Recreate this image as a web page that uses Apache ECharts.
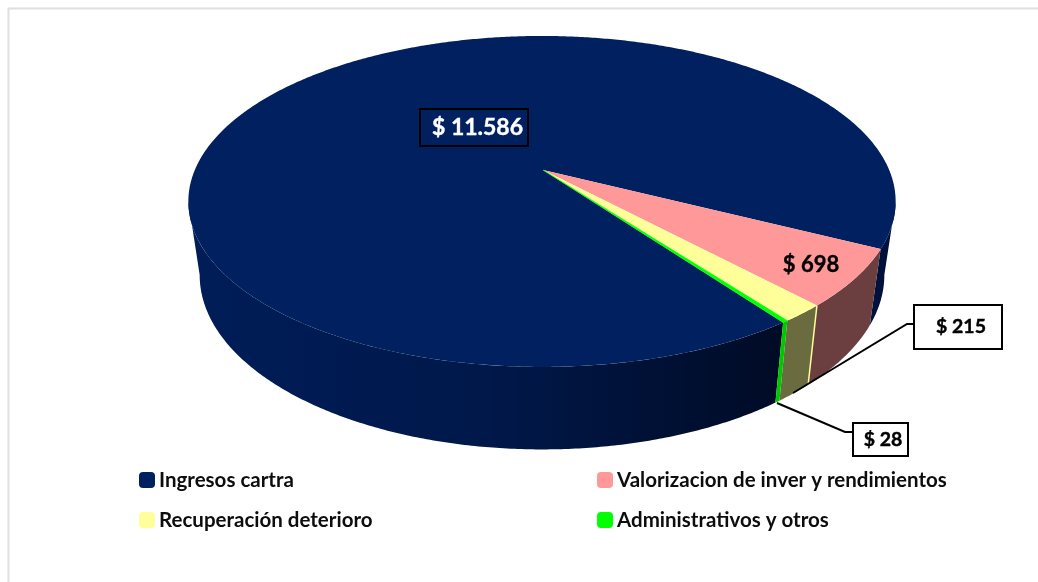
<!DOCTYPE html>
<html>
<head>
<meta charset="utf-8">
<style>
html, body { margin: 0; padding: 0; background: #fff; }
#main { width: 1038px; height: 582px; }
</style>
<script src="https://cdn.jsdelivr.net/npm/echarts@6/dist/echarts.min.js"></script>
</head>
<body>
<div id="main"></div>
<script>
// data
var categories = ['Ingresos cartra', 'Valorizacion de inver y rendimientos', 'Recuperación deterioro', 'Administrativos y otros'];
var values = [11586, 698, 215, 28];
var labelTexts = ['$ 11.586', '$ 698', '$ 215', '$ 28'];
var topColors = ['#002060', '#ff9999', '#ffff99', '#00ff00'];
var wallColors = [null, '#6b3f3f', '#6b6b40', '#00c800'];

var total = values.reduce(function (a, b) { return a + b; }, 0);

// projection of the tilted disc
var START_DEG = 54;
var CX = 542, CY = 170, A = 347.2, B = 159.5, K = 0.19;
var BOTTOM_SCALE = 0.968, BOTTOM_Y = 242, BOTTOM_B = 168;
// where the rim turns away from the viewer, left and right
var TANGENT_RIGHT = Math.asin(K) * 180 / Math.PI;
var TANGENT_LEFT = 180 - TANGENT_RIGHT;
var FONT = 'Lato, "Open Sans", sans-serif';

function topPoint(deg, r) {
    var t = deg * Math.PI / 180;
    var u = r * Math.cos(t), v = r * Math.sin(t), w = 1 - K * v;
    return [CX + A * u / w, CY + B * v / w];
}
function bottomPoint(deg) {
    var t = deg * Math.PI / 180;
    var u = Math.cos(t), v = Math.sin(t), w = 1 - K * v;
    return [CX + BOTTOM_SCALE * A * u / w, BOTTOM_Y + BOTTOM_B * v / w];
}
function arc(fn, from, to) {
    var pts = [], n = Math.max(2, Math.ceil(Math.abs(to - from) * 2));
    for (var i = 0; i <= n; i++) pts.push(fn(from + (to - from) * i / n, 1));
    return pts;
}
function wall(from, to, fill) {
    return {
        type: 'polygon',
        shape: { points: arc(topPoint, from, to).concat(arc(bottomPoint, from, to).reverse()) },
        style: { fill: fill }
    };
}
function sliceAngles(idx) {
    var before = 0;
    for (var i = 0; i < idx; i++) before += values[i];
    return [START_DEG + before / total * 360, START_DEG + (before + values[idx]) / total * 360];
}
function labelText(idx, x, y, size, color) {
    return { type: 'text', z2: 6, x: x, y: y,
             style: { text: labelTexts[idx], fill: color, stroke: color, lineWidth: 0.4,
                      align: 'center', verticalAlign: 'middle', font: 'bold ' + size + 'px ' + FONT } };
}
function box(x, y, w, h, fill) {
    return { type: 'rect', z2: 5, shape: { x: x, y: y, width: w, height: h },
             style: { fill: fill, stroke: '#000', lineWidth: 2 } };
}
function leader(points) {
    return { type: 'polyline', z2: 5, shape: { points: points },
             style: { fill: 'none', stroke: '#000', lineWidth: 2 } };
}

function renderSlice(params, api) {
    var idx = params.seriesIndex;
    var ang = sliceAngles(idx);
    var kids = [];
    if (idx === 0) {
        var leftWall = new echarts.graphic.LinearGradient(198, 0, 777, 0, [
            { offset: 0, color: '#001d58' },
            { offset: 0.5, color: '#00184a' },
            { offset: 1, color: '#000b26' }
        ], true);
        kids.push(wall(ang[0], TANGENT_LEFT, leftWall));
        kids.push(wall(TANGENT_RIGHT, ang[1] - 360, '#00123c'));
    } else {
        kids.push(wall(ang[0], ang[1], wallColors[idx]));
    }
    var top = arc(topPoint, ang[0], ang[1]);
    top.unshift([CX + 1, CY]);
    kids.push({ type: 'polygon', shape: { points: top },
                style: { fill: topColors[idx], stroke: idx === 3 ? topColors[idx] : null, lineWidth: 0.5 } });

    if (idx === 0) {
        kids.push(box(420, 109, 108, 37, 'rgba(0,0,0,0)'));
        kids.push(labelText(0, 477.5, 128, 23, '#fff'));
    } else if (idx === 1) {
        kids.push(labelText(1, 811, 265, 22, '#000'));
    } else if (idx === 2) {
        kids.push({ type: 'line', z2: 2, shape: { x1: topPoint(ang[0], 1)[0], y1: topPoint(ang[0], 1)[1],
                    x2: bottomPoint(ang[0])[0], y2: bottomPoint(ang[0])[1] },
                    style: { stroke: '#ffff99', lineWidth: 1.5 } });
        kids.push(leader([[914, 324], [907, 324], [793, 393]]));
        kids.push(box(914, 305, 88, 44, '#fff'));
        kids.push(labelText(2, 961, 327, 19.5, '#000'));
    } else {
        kids.push(leader([[853, 432], [845, 432], [777, 403]]));
        kids.push(box(853, 423, 55, 33, '#fff'));
        kids.push(labelText(3, 883, 440, 19.5, '#000'));
    }
    return { type: 'group', children: kids };
}

function legendAt(left, names) {
    return {
        left: left, top: 466, padding: 0, orient: 'vertical', itemGap: 12, itemWidth: 16, itemHeight: 16,
        icon: 'roundRect', data: names,
        textStyle: { color: '#0d0d0d', fontWeight: 'bold', fontSize: 20.5, lineHeight: 20,
                     fontFamily: FONT, padding: [0, 0, 8, -1] }
    };
}

var option = {
    backgroundColor: '#fff',
    animation: false,
    graphic: [
        { type: 'polyline', shape: { points: [[8.5, 582], [8.5, 8.5], [1038, 8.5]] },
          style: { fill: 'none', stroke: '#e0e0e0', lineWidth: 2 } }
    ],
    legend: [
        legendAt(139, [categories[0], categories[2]]),
        legendAt(597, [categories[1], categories[3]])
    ],
    series: categories.map(function (name, i) {
        return {
            type: 'custom',
            name: name,
            coordinateSystem: 'none',
            silent: true,
            z: 2 + i,
            itemStyle: { color: topColors[i] },
            data: [[values[i]]],
            renderItem: renderSlice
        };
    })
};
var myChart = echarts.init(document.getElementById('main'));
myChart.setOption(option);
</script>
</body>
</html>
